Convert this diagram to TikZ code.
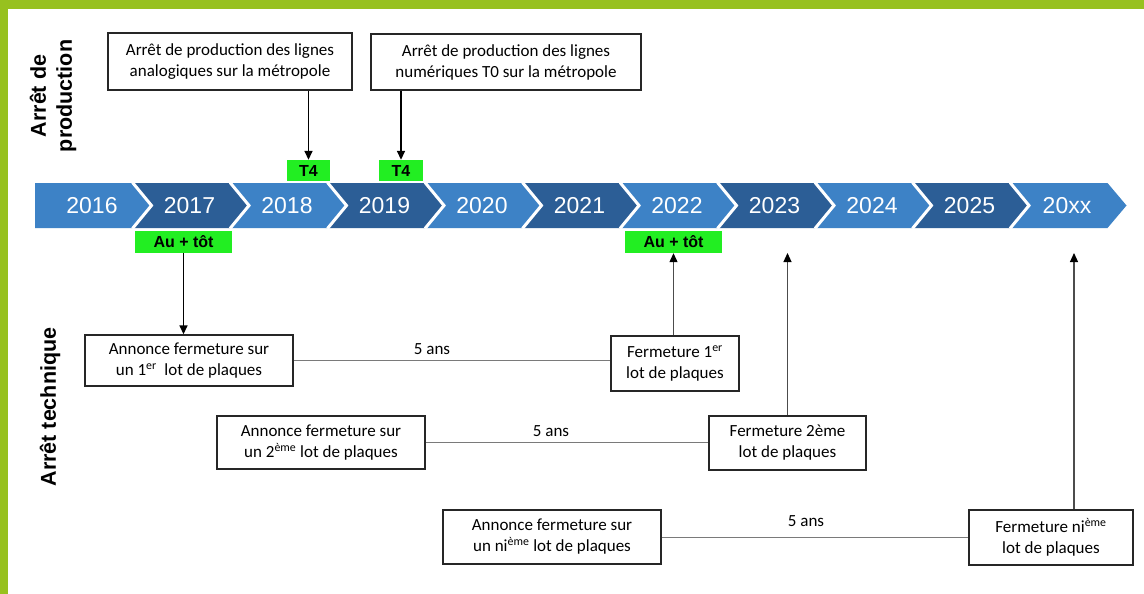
\documentclass[tikz,border=0pt]{standalone}
\usepackage{fontspec}
\setmainfont{Carlito}
\newfontfamily\arialf{Liberation Sans}
\usetikzlibrary{arrows.meta}
\definecolor{barGreen}{HTML}{97C11F}
\definecolor{tagGreen}{HTML}{22EE22}
\definecolor{blueL}{HTML}{3D82C6}
\definecolor{blueD}{HTML}{2C5E96}
\definecolor{lineGray}{HTML}{7A7A7A}
\begin{document}
\begin{tikzpicture}[x=1pt,y=-1pt,
 box/.style={draw=black!85, line width=1.4pt, fill=white, align=center, inner sep=0pt, font=\fontsize{17}{21}\selectfont},
 tag/.style={fill=tagGreen, inner sep=0pt, font=\arialf\bfseries\fontsize{16}{18}\selectfont},
 yearlbl/.style={text=white, inner sep=0pt, font=\arialf\fontsize{23}{26}\selectfont},
 side/.style={rotate=90, align=center, inner sep=0pt, font=\arialf\bfseries\fontsize{21.5}{26}\selectfont},
 lbl/.style={inner sep=0pt, font=\fontsize{17}{21}\selectfont},
 link/.style={draw=lineGray, line width=1pt},
 arr/.style={draw=black, line width=1.6pt, -{Triangle[length=9pt,width=8pt]}},
 uparr/.style={draw=black!70, line width=1.1pt, -{Triangle[length=9pt,width=8pt,color=black]}}
]
\useasboundingbox (0,0) rectangle (1144,594);
\fill[white] (0,0) rectangle (1144,594);
% green frame
\fill[barGreen] (0,0) rectangle (1144,9);
\fill[barGreen] (0,0) rectangle (8,594);

% timeline chevrons
\foreach \i/\yr/\col in {0/2016/blueL,1/2017/blueD,2/2018/blueL,3/2019/blueD,4/2020/blueL,5/2021/blueD,6/2022/blueL,7/2023/blueD,8/2024/blueL,9/2025/blueD,10/20xx/blueL}{
  \pgfmathsetmacro\xl{35+97.5*\i}
  \pgfmathsetmacro\xr{35+97.5*(\i+1)}
  \pgfmathsetmacro\nd{\i==0?0:19}
  \fill[\col] (\xl,183) -- (\xr,183) -- (\xr+19,205.5) -- (\xr,228) -- (\xl,228) -- (\xl+\nd,205.5) -- cycle;
  \node[yearlbl] (y\i) at (\xl+57,205.5) {\yr};
}
\foreach \i in {1,...,10}{
  \pgfmathsetmacro\xl{35+97.5*\i}
  \draw[white, line width=3pt] (\xl,182.5) -- (\xl+19,205.5) -- (\xl,228.5);
}

% side titles
\node[side] (s1) at (53,96) {Arrêt de\\production};
\node[side] (s2) at (50,407) {Arrêt technique};

% production boxes
\node[box, minimum width=244pt, minimum height=57pt] (p1) at (230,61.5) {Arrêt de production des lignes\\analogiques sur la métropole};
\node[box, minimum width=270pt, minimum height=56pt] (p2) at (506,62) {Arrêt de production des lignes\\numériques T0 sur la métropole};

% green tags
\node[tag, minimum width=43pt, minimum height=21pt] (t4a) at (308.5,170.5) {T4};
\node[tag, minimum width=44pt, minimum height=21pt] (t4b) at (401,170.5) {T4};
\node[tag, minimum width=97pt, minimum height=22pt] (au1) at (183.5,242) {Au + tôt};
\node[tag, minimum width=97pt, minimum height=22pt] (au2) at (673.5,242) {Au + tôt};

% technical boxes
\node[box, minimum width=208pt, minimum height=51pt] (a1) at (189,360.5) {Annonce fermeture sur\\un 1\textsuperscript{er}\ \ lot de plaques};
\node[box, minimum width=128pt, minimum height=55pt] (f1) at (675,363.5) {Fermeture 1\textsuperscript{er}\\lot de plaques};
\node[box, minimum width=208pt, minimum height=53pt] (a2) at (321,442.5) {Annonce fermeture sur\\un 2\textsuperscript{ème} lot de plaques};
\node[box, minimum width=157pt, minimum height=54pt] (f2) at (787.5,443) {Fermeture 2ème\\lot de plaques};
\node[box, minimum width=218pt, minimum height=54pt] (a3) at (552,537) {Annonce fermeture sur\\un ni\textsuperscript{ème} lot de plaques};
\node[box, minimum width=164pt, minimum height=55pt] (f3) at (1051,537.5) {Fermeture ni\textsuperscript{ème}\\lot de plaques};

% duration labels
\node[lbl] (d1) at (432,349) {5 ans};
\node[lbl] (d2) at (551,431) {5 ans};
\node[lbl] (d3) at (806,521) {5 ans};

% connectors
\draw[arr] (p1.south -| t4a.north) -- (t4a.north);
\draw[arr] (p2.south -| t4b.north) -- (t4b.north);
\draw[arr] (au1.south) -- (au1.south |- a1.north);
\draw[link] (a1.east) -- (a1.east -| f1.west);
\draw[link] (a2.east) -- (a2.east -| f2.west);
\draw[link] (a3.east) -- (a3.east -| f3.west);
\coordinate (e2) at (787.5,253);
\coordinate (e3) at (1074,253);
\draw[uparr] (f1.north -| au2.south) -- (au2.south);
\draw[uparr] (f2.north) -- (e2);
\draw[uparr] (f3.north -| e3) -- (e3);
\end{tikzpicture}
\end{document}
